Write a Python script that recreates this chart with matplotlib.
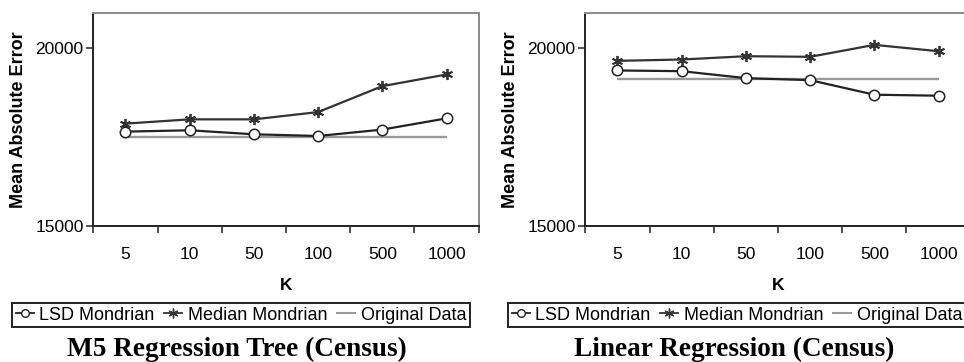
import matplotlib
matplotlib.use("Agg")
import matplotlib.pyplot as plt
from matplotlib.lines import Line2D
import numpy as np

# K values (categorical x axis)
k_labels = ["5", "10", "50", "100", "500", "1000"]

# M5 regression tree on Census
m5_lsd = [17655, 17692, 17580, 17532, 17712, 18028]
m5_median = [17880, 18000, 18000, 18205, 18934, 19263]
m5_original = 17496

# Linear regression on Census
lr_lsd = [19375, 19355, 19159, 19103, 18693, 18665]
lr_median = [19646, 19683, 19776, 19759, 20095, 19916]
lr_original = 19131

y_ticks = [15000, 20000]
y_limits = (15000, 21000)

titles = ["M5 Regression Tree (Census)", "Linear Regression (Census)"]
series_label = ["LSD Mondrian", "Median Mondrian", "Original Data"]

sans = ["Liberation Sans", "DejaVu Sans"]
serif = ["Liberation Serif", "DejaVu Serif"]

fig = plt.figure(figsize=(9.64, 3.62), dpi=100)
W, H = 964.0, 362.0

line_dark = "#333333"
line_gray = "#999999"
star = (6, 2, 0)


def draw_panel(left_px, lsd, median, original, title, legend_cx, title_cx):
    top_px, bottom_px, width_px = 12.7, 226.0, 385.4
    ax = fig.add_axes([left_px / W, 1 - bottom_px / H, width_px / W,
                       (bottom_px - top_px) / H])
    x = np.arange(len(k_labels))
    ax.plot([x[0], x[-1]], [original, original], color=line_gray, lw=1.7,
            solid_capstyle="butt", zorder=2)
    ax.plot(x, median, color=line_dark, lw=1.6, marker=star,
            markersize=8, markeredgewidth=1.3, markeredgecolor=line_dark,
            zorder=3)
    ax.plot(x, lsd, color="#222222", lw=1.6, marker="o", markersize=7.5,
            markerfacecolor="white", markeredgecolor="#222222",
            markeredgewidth=1.1, zorder=4)

    ax.set_xlim(-0.5, len(k_labels) - 0.5)
    ax.set_ylim(*y_limits)
    ax.set_yticks(y_ticks)
    ax.set_yticklabels([str(v) for v in y_ticks], fontfamily=sans,
                       fontsize=12.5)
    ax.set_xticks(x)
    ax.set_xticklabels(k_labels, fontfamily=sans, fontsize=12.5)
    ax.tick_params(axis="x", which="major", length=0, pad=15)
    ax.set_xticks(np.arange(-0.5, len(k_labels)), minor=True)
    ax.tick_params(axis="x", which="minor", length=5, width=1.2,
                   color="#333333", direction="out")
    ax.tick_params(axis="y", length=5, width=1.2, color="#333333", pad=2)

    for side in ("left", "bottom"):
        ax.spines[side].set_color("#222222")
        ax.spines[side].set_linewidth(1.4)
    for side in ("top", "right"):
        ax.spines[side].set_color("#8a8a8a")
        ax.spines[side].set_linewidth(1.4)

    ax.set_xlabel("K", fontfamily=sans, fontweight="bold", fontsize=12.5,
                  labelpad=12)
    ax.set_ylabel("Mean Absolute Error", fontfamily=sans, fontweight="bold",
                  fontsize=13, labelpad=6)

    handles = [
        Line2D([], [], color="#222222", lw=1.3, marker="o", markersize=5.5,
               markerfacecolor="white", markeredgewidth=1.0),
        Line2D([], [], color=line_dark, lw=1.3, marker=star,
               markersize=7, markeredgewidth=1.0),
        Line2D([], [], color=line_gray, lw=1.5),
    ]
    leg = fig.legend(handles, series_label, loc="upper center",
                     bbox_to_anchor=(legend_cx / W, 1 - 303 / H),
                     bbox_transform=fig.transFigure, ncol=3, frameon=True,
                     fancybox=False, edgecolor="#222222", framealpha=1,
                     handlelength=1.0, handletextpad=0.3, columnspacing=0.55,
                     borderpad=0.2, borderaxespad=0,
                     prop={"family": sans, "size": 13})
    leg.get_frame().set_linewidth(1.4)

    fig.text(title_cx / W, 1 - 349 / H, title,
             ha="center", va="center", fontfamily=serif, fontweight="bold",
             fontsize=19.6)
    return ax


draw_panel(93.3, m5_lsd, m5_median, m5_original, titles[0], 241, 237)
draw_panel(585.3, lr_lsd, lr_median, lr_original, titles[1], 737, 734.5)

fig.savefig("out.png", dpi=100)
